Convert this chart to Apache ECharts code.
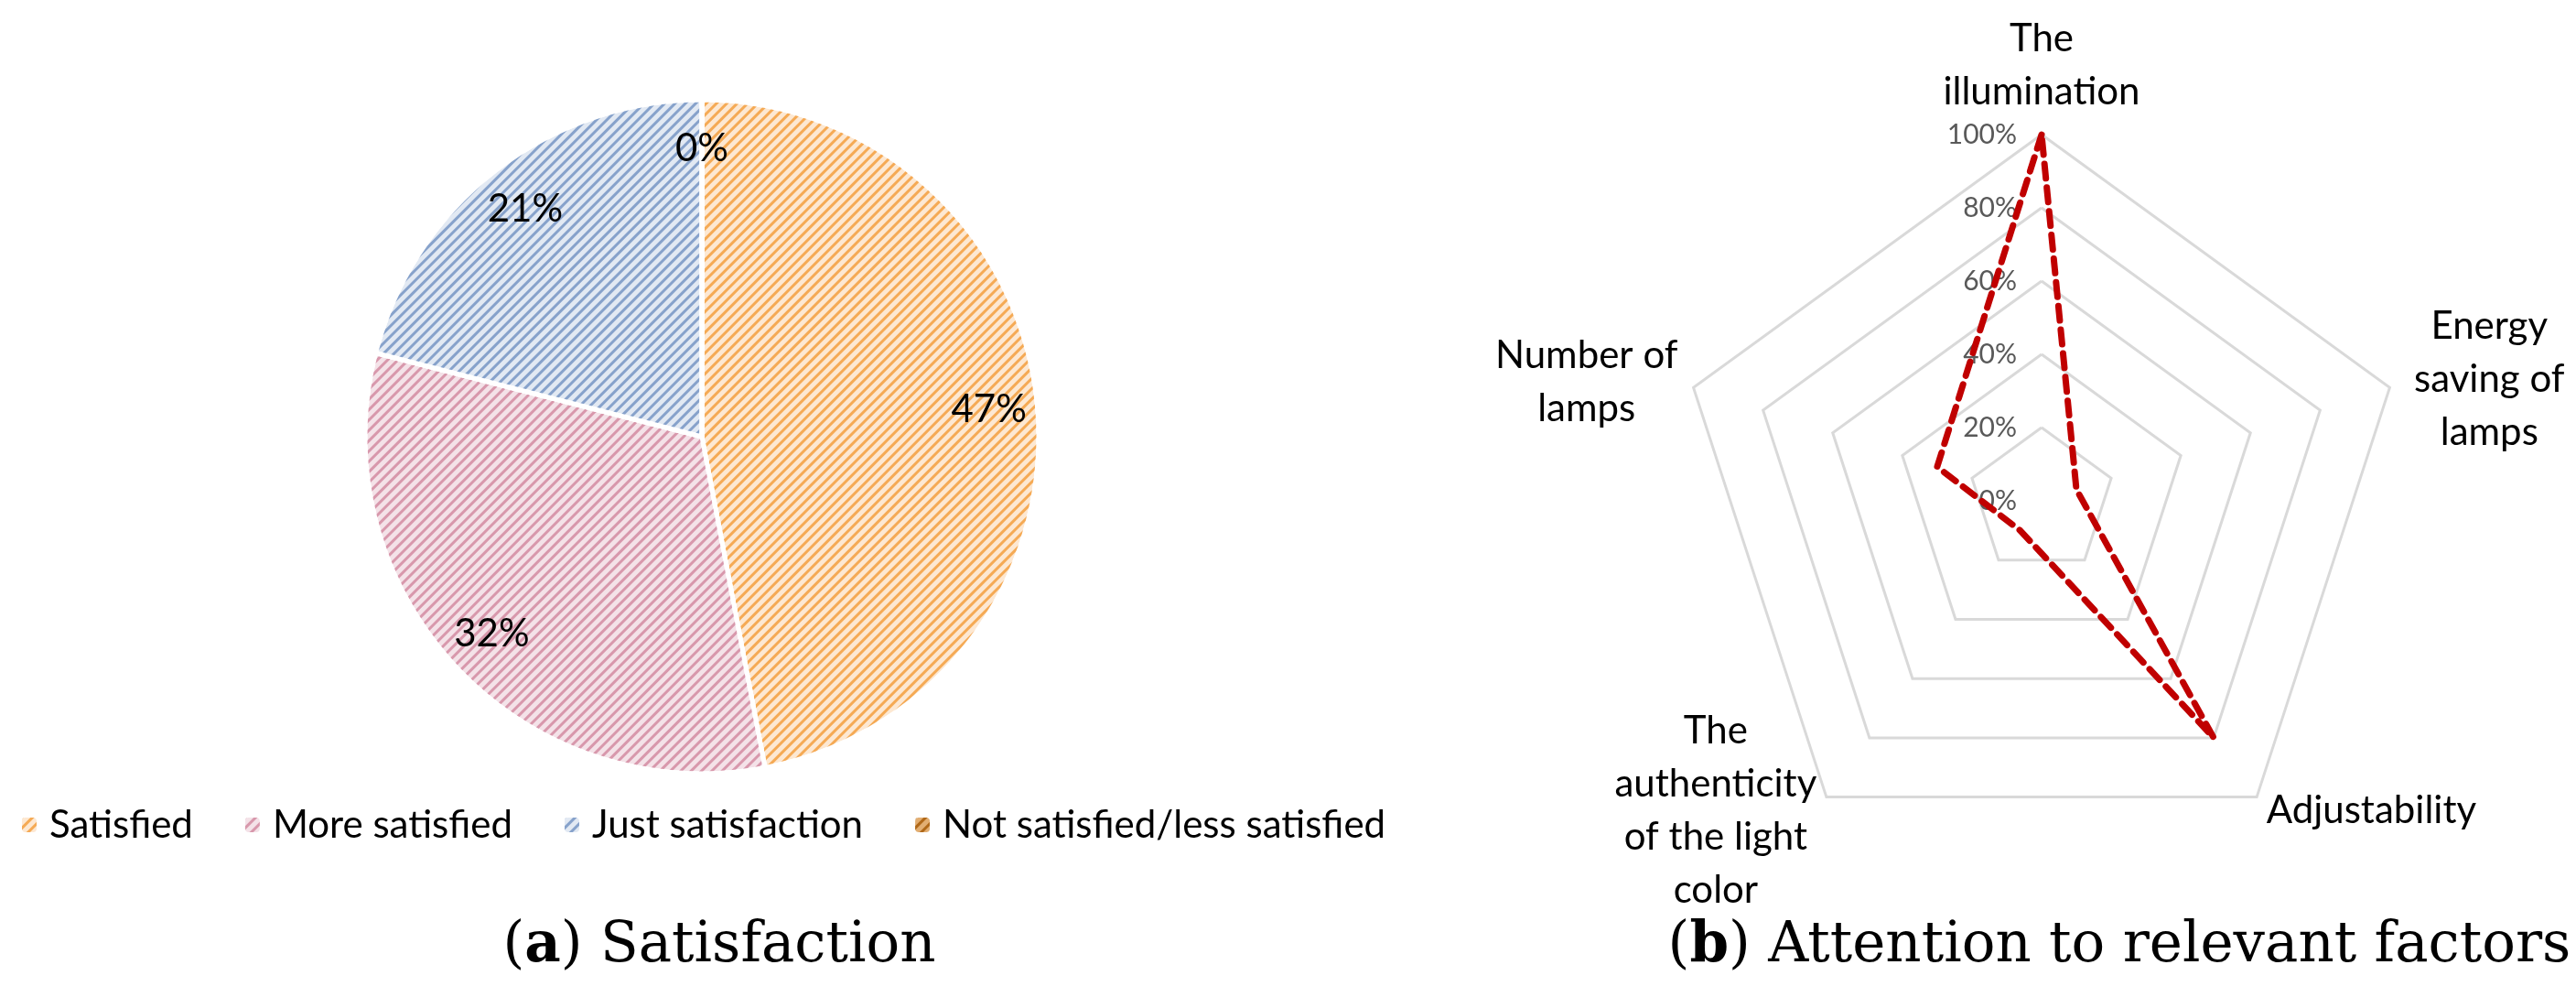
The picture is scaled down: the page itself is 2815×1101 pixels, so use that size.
<!DOCTYPE html>
<html><head><meta charset="utf-8">
<script src="https://cdn.jsdelivr.net/npm/echarts@6/dist/echarts.min.js"></script>
<style>html,body{margin:0;padding:0;background:#fff;}#c{width:2815px;height:1101px;}</style>
</head><body><div id="c"></div>
<script>
// ---------- data ----------
const pieCategories = ['Satisfied', 'More satisfied', 'Just satisfaction', 'Not satisfied/less satisfied'];
const pieValues = [47, 32, 21, 0];
// radar categories in ECharts (counter-clockwise) order starting at the top
const radarCategories = ['The\nillumination', 'Number of\nlamps', 'The\nauthenticity\nof the light\ncolor', 'Adjustability', 'Energy\nsaving of\nlamps'];
const radarValues = [100, 30, 10, 80, 10];
const radarTicks = [0, 20, 40, 60, 80, 100];
const captionLetters = ['a', 'b'];
const captionTexts = ['Satisfaction', 'Attention to relevant factors'];

// ---------- styles ----------
const sliceFill = ['#FDE8D2', '#F4E2E8', '#E2E9F3', '#E2AE72'];
const sliceStripe = ['#F5AA55', '#D898AC', '#87A2CB', '#B06818'];
const FONT = 'Lato';

const chart = echarts.init(document.getElementById('c'), null, {renderer: 'canvas'});

const pieData = pieCategories.map((n, i) => ({
  name: n, value: pieValues[i],
  itemStyle: {
    color: sliceFill[i],
    decal: {symbol: 'rect', symbolSize: 1, dashArrayX: [1, 0], dashArrayY: [2.5, 4.5], rotation: -Math.PI / 4, color: sliceStripe[i]}
  }
}));

const option = {
  backgroundColor: '#ffffff',
  animation: false,
  title: captionLetters.map((l, i) => ({
    text: '({b|' + l + '}) ' + captionTexts[i],
    left: i === 0 ? 786 : 2316,
    top: 1004,
    textAlign: 'center',
    padding: 0,
    textStyle: {
      fontFamily: 'DejaVu Serif', fontSize: 61, fontWeight: 'normal', color: '#000',
      rich: {b: {fontFamily: 'DejaVu Serif', fontSize: 61, fontWeight: 'bold', color: '#000'}}
    }
  })),
  legend: {
    data: pieCategories,
    left: 22, top: 880, padding: 0,
    itemWidth: 18, itemHeight: 18, itemGap: 55,
    selectedMode: false,
    textStyle: {fontFamily: FONT, fontSize: 42, color: '#000', padding: [0, 0, 0, 8]}
  },
  radar: {
    center: [2231, 547],
    radius: 400,
    startAngle: 90,
    shape: 'polygon',
    splitNumber: radarTicks.length - 1,
    nameGap: 18,
    axisName: {
      color: '#000', fontFamily: FONT, fontSize: 42, lineHeight: 58,
      formatter: (name) => name.split('\n').map(s => '{c|' + s + '}').join('\n'),
      rich: {c: {align: 'center', color: '#000', fontFamily: FONT, fontSize: 42, lineHeight: 58}}
    },
    indicator: radarCategories.map((n, i) => {
      const o = {name: n, min: radarTicks[0], max: radarTicks[radarTicks.length - 1]};
      if (i === 0) o.axisLabel = {show: true};
      if (i === 4) o.nameGap = 28;
      return o;
    }),
    axisLine: {show: false},
    axisTick: {show: false},
    splitArea: {show: false},
    splitLine: {lineStyle: {color: '#D9D9D9', width: 3}},
    axisLabel: {show: false, formatter: '{value}%', color: '#595959', fontFamily: FONT, fontSize: 30, margin: 27}
  },
  series: [
    {
      type: 'pie',
      center: [767, 477],
      radius: [0, 368],
      startAngle: 90,
      clockwise: true,
      label: {show: false},
      labelLine: {show: false},
      itemStyle: {borderColor: '#fff', borderWidth: 5},
      emphasis: {disabled: true},
      data: pieData
    },
    {
      type: 'pie',
      center: [767, 477],
      radius: [256, 368],
      startAngle: 90,
      clockwise: true,
      silent: true,
      legendHoverLink: false,
      itemStyle: {color: 'rgba(0,0,0,0)', borderWidth: 0},
      label: {show: true, position: 'inside', formatter: (p) => p.value + '%', color: '#000', fontFamily: FONT, fontSize: 42},
      labelLine: {show: false},
      emphasis: {disabled: true},
      data: pieCategories.map((n, i) => ({name: n, value: pieValues[i]}))
    },
    {
      type: 'radar',
      symbol: 'none',
      lineStyle: {color: '#C00000', width: 7, type: [16, 10], cap: 'round', join: 'round'},
      itemStyle: {color: '#C00000'},
      emphasis: {disabled: true},
      data: [{value: radarValues, name: 'Attention'}]
    }
  ]
};
chart.setOption(option);
</script>
</body></html>
